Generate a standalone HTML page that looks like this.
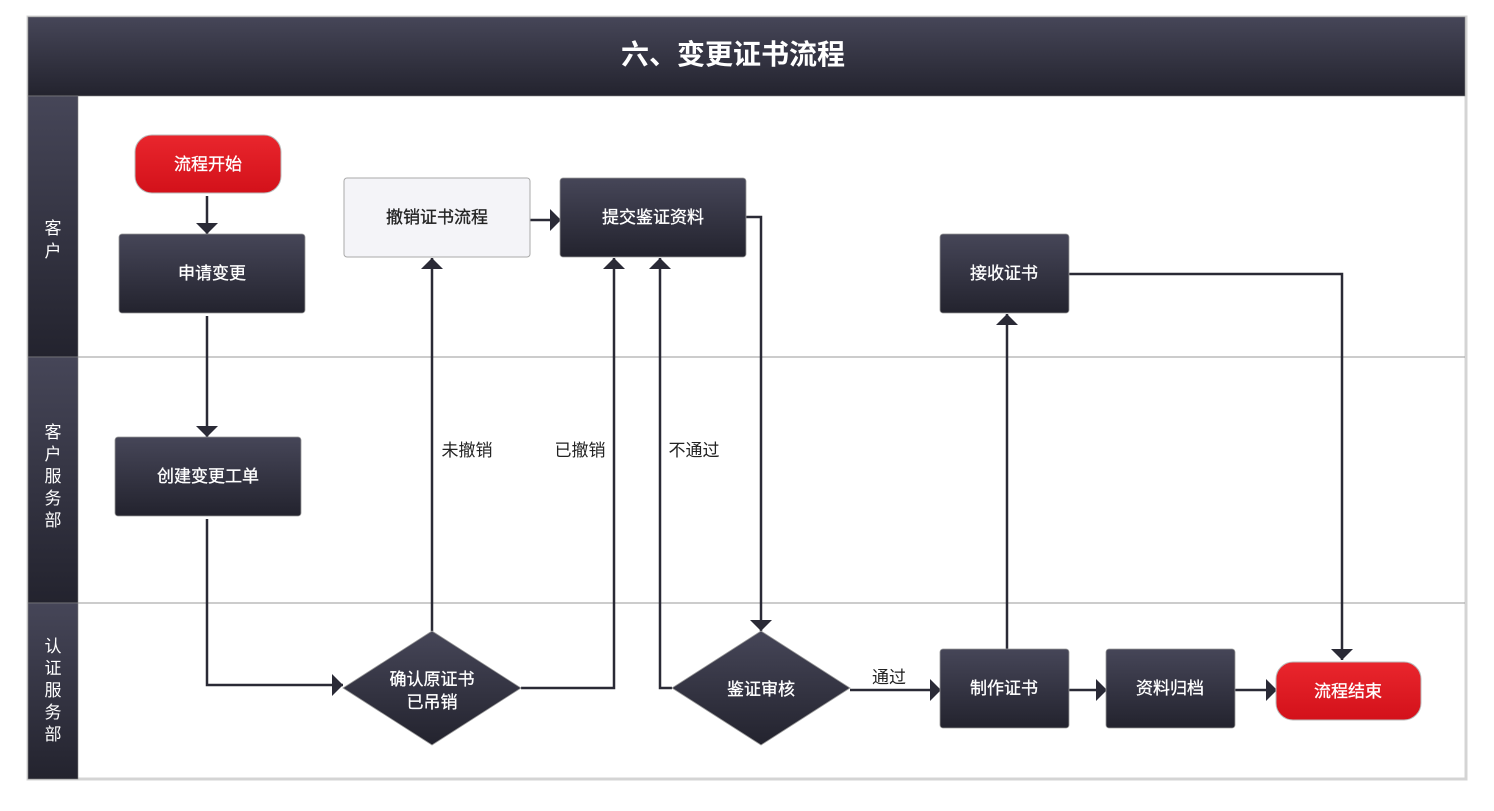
<!DOCTYPE html>
<html><head><meta charset="utf-8"><style>
body{margin:0;background:#fff;}
svg{display:block;font-family:"Liberation Sans","Noto Sans CJK SC",sans-serif;}
</style></head><body>
<svg width="1494" height="811" viewBox="0 0 1494 811" xmlns="http://www.w3.org/2000/svg">
<defs>
<linearGradient id="dk" x1="0" y1="0" x2="0" y2="1"><stop offset="0" stop-color="#464658"/><stop offset="1" stop-color="#23232e"/></linearGradient>
<linearGradient id="rd" x1="0" y1="0" x2="0" y2="1"><stop offset="0" stop-color="#e9262d"/><stop offset="1" stop-color="#d3111a"/></linearGradient>
<marker id="ar" viewBox="0 0 12 22" refX="11" refY="11" markerWidth="12" markerHeight="22" markerUnits="userSpaceOnUse" orient="auto"><path d="M0,0 L11,11 L0,22 z" fill="#2a2a36"/></marker>
</defs>
<rect x="28" y="17" width="1438" height="762" fill="#fff" stroke="#d4d4d4" stroke-width="3"/>
<rect x="28" y="17" width="1437" height="79" fill="url(#dk)" stroke="#888" stroke-width="0.6"/>
<text x="733" y="64" font-size="28" font-weight="bold" fill="#fff" text-anchor="middle">六、变更证书流程</text>
<rect x="28" y="96" width="50" height="261" fill="url(#dk)" stroke="#888" stroke-width="0.6"/>
<rect x="28" y="357" width="50" height="246" fill="url(#dk)" stroke="#888" stroke-width="0.6"/>
<rect x="28" y="603" width="50" height="176" fill="url(#dk)" stroke="#888" stroke-width="0.6"/>
<line x1="78" y1="357" x2="1465" y2="357" stroke="#999" stroke-width="1"/>
<line x1="78" y1="603" x2="1465" y2="603" stroke="#999" stroke-width="1"/>
<g fill="#fff" font-size="17" text-anchor="middle">
<text x="53" y="234">客</text><text x="53" y="257">户</text>
<text x="53" y="438">客</text><text x="53" y="460">户</text><text x="53" y="482">服</text><text x="53" y="504">务</text><text x="53" y="526">部</text>
<text x="53" y="652">认</text><text x="53" y="674">证</text><text x="53" y="696">服</text><text x="53" y="718">务</text><text x="53" y="740">部</text>
</g>
<g fill="none" stroke="#2a2a36" stroke-width="2.5">
<path d="M207,196 V234" marker-end="url(#ar)"/>
<path d="M207,316 V437" marker-end="url(#ar)"/>
<path d="M207,519 V685 H343" marker-end="url(#ar)"/>
<path d="M432,631 V258" marker-end="url(#ar)"/>
<path d="M521,688 H614 V258" marker-end="url(#ar)"/>
<path d="M530,220 H561" marker-end="url(#ar)"/>
<path d="M746,217 H761 V631" marker-end="url(#ar)"/>
<path d="M672,688 H660 V258" marker-end="url(#ar)"/>
<path d="M850,690 H941" marker-end="url(#ar)"/>
<path d="M1007,649 V314" marker-end="url(#ar)"/>
<path d="M1069,690 H1107" marker-end="url(#ar)"/>
<path d="M1235,690 H1277" marker-end="url(#ar)"/>
<path d="M1069,274 H1342 V660" marker-end="url(#ar)"/>
</g>
<g font-size="17" fill="#222" text-anchor="middle">
<text x="467" y="456">未撤销</text><text x="580" y="456">已撤销</text><text x="694" y="456">不通过</text><text x="889" y="683">通过</text>
</g>
<rect x="135" y="135" width="146" height="58" rx="17" fill="url(#rd)" stroke="#bbb"/>
<rect x="1276" y="662" width="145" height="58" rx="17" fill="url(#rd)" stroke="#bbb"/>
<rect x="344" y="178" width="186" height="79" rx="3" fill="#f4f4f8" stroke="#aaa"/>
<g fill="url(#dk)" stroke="#999" stroke-width="0.8">
<rect x="119" y="234" width="186" height="79" rx="3"/>
<rect x="560" y="178" width="186" height="79" rx="3"/>
<rect x="940" y="234" width="129" height="79" rx="3"/>
<rect x="115" y="437" width="186" height="79" rx="3"/>
<rect x="940" y="649" width="129" height="79" rx="3"/>
<rect x="1106" y="649" width="129" height="79" rx="3"/>
<path d="M432,631 L521,688 L432,745 L343,688 z"/>
<path d="M761,631 L850,688 L761,745 L672,688 z"/>
</g>
<g font-size="17" fill="#fff" text-anchor="middle" stroke="#fff" stroke-width="0.3">
<text x="208" y="170">流程开始</text>
<text x="1348" y="697">流程结束</text>
<text x="212" y="279">申请变更</text>
<text x="437" y="223" fill="#222" stroke="#222">撤销证书流程</text>
<text x="653" y="223">提交鉴证资料</text>
<text x="1004" y="279">接收证书</text>
<text x="208" y="482">创建变更工单</text>
<text x="432" y="685">确认原证书</text>
<text x="432" y="708">已吊销</text>
<text x="761" y="695">鉴证审核</text>
<text x="1004" y="694">制作证书</text>
<text x="1170" y="694">资料归档</text>
</g>
</svg>
</body></html>
